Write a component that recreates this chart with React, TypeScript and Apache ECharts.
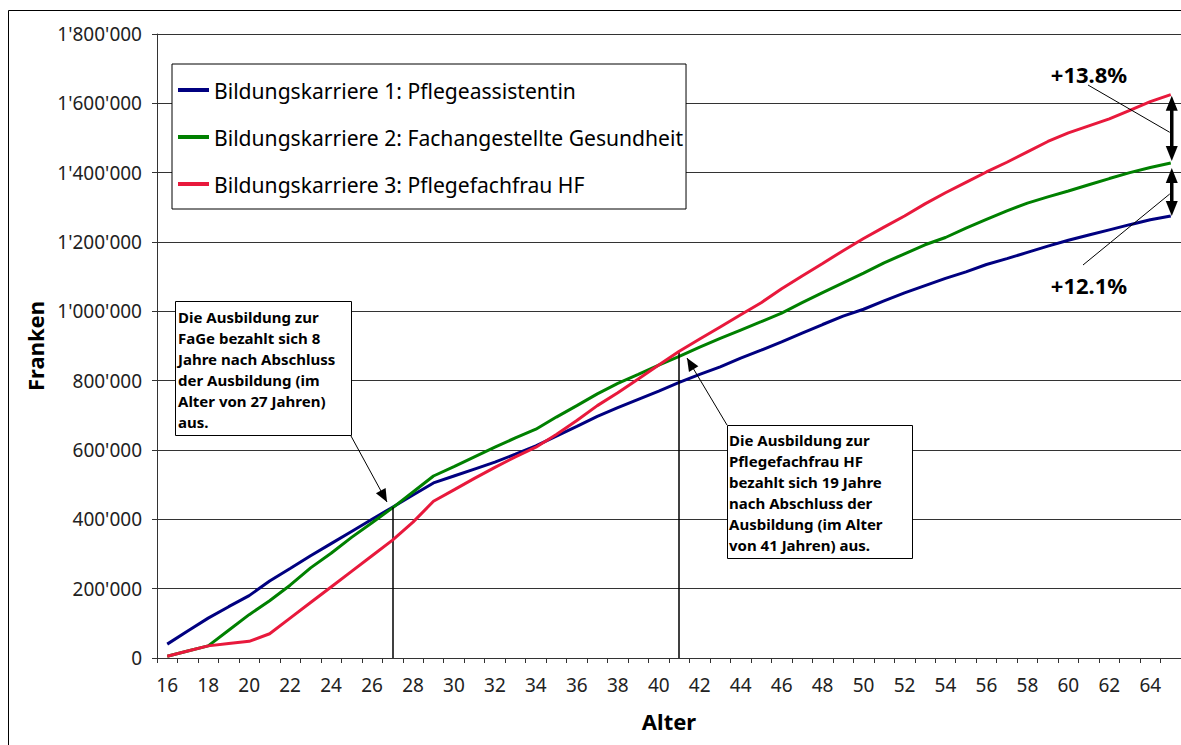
import React, { useEffect, useRef } from "react";
import * as echarts from "echarts";

const ages = [
  "16", "17", "18", "19", "20", "21", "22", "23", "24", "25",
  "26", "27", "28", "29", "30", "31", "32", "33", "34", "35",
  "36", "37", "38", "39", "40", "41", "42", "43", "44", "45",
  "46", "47", "48", "49", "50", "51", "52", "53", "54", "55",
  "56", "57", "58", "59", "60", "61", "62", "63", "64", "65",
];

const seriesNames = [
  "Bildungskarriere 1: Pflegeassistentin",
  "Bildungskarriere 2: Fachangestellte Gesundheit",
  "Bildungskarriere 3: Pflegefachfrau HF",
];
const seriesColors = ["#000080", "#008000", "#e8193c"];

const blueValues = [
  40000, 78000, 115000, 148000, 180000, 222000, 258000, 295000, 330000, 365000,
  400000, 435000, 470000, 505000, 525000, 545000, 565000, 588000, 612000, 640000,
  668000, 697000, 722000, 746000, 770000, 795000, 818000, 840000, 865000, 888000,
  912000, 937000, 962000, 986000, 1006000, 1030000, 1053000, 1074000, 1095000, 1114000,
  1135000, 1152000, 1170000, 1188000, 1205000, 1220000, 1235000, 1250000, 1264000, 1275000,
];
const greenValues = [
  5000, 20000, 35000, 80000, 125000, 165000, 210000, 260000, 302000, 348000,
  390000, 433000, 479000, 525000, 552000, 580000, 608000, 635000, 660000, 695000,
  728000, 762000, 792000, 818000, 845000, 870000, 897000, 922000, 946000, 970000,
  995000, 1025000, 1054000, 1082000, 1110000, 1140000, 1166000, 1192000, 1213000, 1240000,
  1265000, 1290000, 1312000, 1330000, 1347000, 1365000, 1383000, 1400000, 1415000, 1428000,
];
const redValues = [
  5000, 20000, 35000, 42000, 48000, 70000, 115000, 160000, 205000, 250000,
  295000, 340000, 392000, 452000, 485000, 518000, 550000, 580000, 608000, 645000,
  685000, 728000, 765000, 805000, 845000, 885000, 920000, 955000, 990000, 1025000,
  1065000, 1102000, 1138000, 1175000, 1210000, 1243000, 1275000, 1310000, 1342000, 1372000,
  1402000, 1430000, 1460000, 1490000, 1515000, 1535000, 1555000, 1580000, 1605000, 1625000,
];

const yMax = 1800000;
const yInterval = 200000;

const breakEvenAges = ["27", "41"];
const noteFaGe = [
  "Die Ausbildung zur",
  "FaGe bezahlt sich 8",
  "Jahre nach Abschluss",
  "der Ausbildung (im",
  "Alter von 27 Jahren)",
  "aus.",
];
const noteHF = [
  "Die Ausbildung zur",
  "Pflegefachfrau HF",
  "bezahlt sich 19 Jahre",
  "nach Abschluss der",
  "Ausbildung (im Alter",
  "von 41 Jahren) aus.",
];
const pctUpper = "+13.8%";
const pctLower = "+12.1%";

const FONT = '"Noto Sans", "Open Sans", sans-serif';

function fmt(v: number): string {
  return String(v).replace(/\B(?=(\d{3})+(?!\d))/g, "'");
}

function arrowHead(tip: number[], from: number[], len: number, halfW: number) {
  const dx = tip[0] - from[0];
  const dy = tip[1] - from[1];
  const d = Math.sqrt(dx * dx + dy * dy) || 1;
  const ux = dx / d;
  const uy = dy / d;
  const bx = tip[0] - ux * len;
  const by = tip[1] - uy * len;
  const nx = -uy;
  const ny = ux;
  return {
    type: "polygon",
    z: 100,
    shape: {
      points: [
        [tip[0], tip[1]],
        [bx + nx * halfW, by + ny * halfW],
        [bx - nx * halfW, by - ny * halfW],
      ],
    },
    style: { fill: "#000" },
  };
}

export default function App() {
  const ref = useRef<HTMLDivElement>(null);

  useEffect(() => {
    if (!ref.current) return;
    const chart = echarts.init(ref.current, undefined, { renderer: "svg" });

    const allValues = [blueValues, greenValues, redValues];
    const series: any[] = allValues.map((vals, k) => ({
      name: seriesNames[k],
      type: "line",
      data: vals,
      showSymbol: false,
      symbol: "none",
      smooth: false,
      lineStyle: { color: seriesColors[k], width: 3 },
      itemStyle: { color: seriesColors[k] },
      z: 3 + k,
    }));

    const idx27 = ages.indexOf(breakEvenAges[0]);
    const idx41 = ages.indexOf(breakEvenAges[1]);
    series[0].markLine = {
      silent: true,
      symbol: ["none", "none"],
      label: { show: false },
      lineStyle: { color: "#000", width: 1.5, type: "solid" },
      data: [
        [
          { coord: [idx27, Math.max(blueValues[idx27], greenValues[idx27])] },
          { coord: [idx27, 0] },
        ],
        [
          { coord: [idx41, Math.max(greenValues[idx41], redValues[idx41])] },
          { coord: [idx41, 0] },
        ],
      ],
    };

    const option: any = {
      animation: false,
      backgroundColor: "#fff",
      textStyle: { fontFamily: FONT },
      grid: { left: 157, top: 34, width: 1030, height: 624, containLabel: false },
      legend: {
        orient: "vertical",
        left: 172,
        top: 64,
        padding: [14, 3, 13, 6],
        itemGap: 23,
        itemWidth: 31,
        itemHeight: 4,
        icon: "rect",
        borderColor: "#000",
        borderWidth: 1,
        backgroundColor: "#fff",
        textStyle: { fontSize: 21.1, color: "#000", lineHeight: 24, fontFamily: FONT },
        data: seriesNames,
      },
      xAxis: {
        type: "category",
        data: ages,
        boundaryGap: true,
        name: "Alter",
        nameLocation: "middle",
        nameGap: 52,
        nameTextStyle: { fontSize: 22, fontWeight: "bold", color: "#000", fontFamily: FONT },
        axisLine: { lineStyle: { color: "#333", width: 1 } },
        axisTick: { show: true, interval: 0, length: 5, alignWithLabel: false, lineStyle: { color: "#333" } },
        axisLabel: { interval: 1, fontSize: 19, color: "#222", margin: 17, fontFamily: FONT },
        splitLine: { show: false },
      },
      yAxis: {
        type: "value",
        min: 0,
        max: yMax,
        interval: yInterval,
        name: "Franken",
        nameLocation: "middle",
        nameGap: 110,
        nameRotate: 90,
        nameTextStyle: { fontSize: 22, fontWeight: "bold", color: "#000", fontFamily: FONT },
        axisLine: { show: true, lineStyle: { color: "#333", width: 1 } },
        axisTick: { show: true, length: 5, lineStyle: { color: "#333" } },
        axisLabel: { fontSize: 19, color: "#222", margin: 15, formatter: (v: number) => fmt(v), fontFamily: FONT },
        splitLine: { show: true, lineStyle: { color: "#333", width: 1 } },
      },
      series,
    };

    chart.setOption(option);

    const px = (i: number, v: number) =>
      chart.convertToPixel({ xAxisIndex: 0, yAxisIndex: 0 }, [i, v]) as number[];

    const last = ages.length - 1;
    const pRed = px(last, redValues[last]);
    const pGreen = px(last, greenValues[last]);
    const pBlue = px(last, blueValues[last]);
    const ax = pRed[0] + 1;

    const g: any[] = [];
    g.push({
      type: "rect",
      z: 0,
      shape: { x: 8.5, y: 10.5, width: 1200, height: 740 },
      style: { fill: "none", stroke: "#000", lineWidth: 1 },
    });

    g.push({
      type: "rect",
      z: 100,
      shape: { x: 175.5, y: 301.5, width: 176, height: 134 },
      style: { fill: "#fff", stroke: "#000", lineWidth: 1 },
    });
    g.push({
      type: "text",
      z: 101,
      x: 178,
      y: 306,
      style: {
        text: noteFaGe.join("\n"),
        fontFamily: FONT,
        fontSize: 15,
        fontWeight: "bold",
        lineHeight: 21,
        fill: "#000",
        verticalAlign: "top",
      },
    });
    const a1From = [351, 436];
    const a1Tip = [387, 502];
    g.push({
      type: "line",
      z: 100,
      shape: { x1: a1From[0], y1: a1From[1], x2: a1Tip[0], y2: a1Tip[1] },
      style: { stroke: "#000", lineWidth: 1 },
    });
    g.push(arrowHead(a1Tip, a1From, 13, 5.5));

    g.push({
      type: "rect",
      z: 100,
      shape: { x: 727.5, y: 425.5, width: 185, height: 133 },
      style: { fill: "#fff", stroke: "#000", lineWidth: 1 },
    });
    g.push({
      type: "text",
      z: 101,
      x: 729,
      y: 429,
      style: {
        text: noteHF.join("\n"),
        fontFamily: FONT,
        fontSize: 15,
        fontWeight: "bold",
        lineHeight: 21,
        fill: "#000",
        verticalAlign: "top",
      },
    });
    const a2From = [727, 425];
    const a2Tip = [687, 358];
    g.push({
      type: "line",
      z: 100,
      shape: { x1: a2From[0], y1: a2From[1], x2: a2Tip[0], y2: a2Tip[1] },
      style: { stroke: "#000", lineWidth: 1 },
    });
    g.push(arrowHead(a2Tip, a2From, 13, 5.5));

    const up1 = [ax, pRed[1] + 1];
    const dn1 = [ax, pGreen[1] - 2];
    const up2 = [ax, pGreen[1] + 5];
    const dn2 = [ax, pBlue[1]];
    [[up1, dn1], [up2, dn2]].forEach(([t, b]) => {
      g.push({
        type: "line",
        z: 100,
        shape: { x1: t[0], y1: t[1] + 8, x2: b[0], y2: b[1] - 8 },
        style: { stroke: "#000", lineWidth: 3.5 },
      });
      g.push(arrowHead(t, b, 15, 6));
      g.push(arrowHead(b, t, 15, 6));
    });

    g.push({
      type: "text",
      z: 101,
      x: 1089,
      y: 74,
      style: {
        text: pctUpper,
        fontFamily: FONT,
        fontSize: 22,
        fontWeight: "bold",
        fill: "#000",
        textAlign: "center",
        verticalAlign: "middle",
      },
    });
    g.push({
      type: "line",
      z: 100,
      shape: { x1: 1088, y1: 85, x2: ax - 2, y2: (up1[1] + dn1[1]) / 2 + 4 },
      style: { stroke: "#000", lineWidth: 1 },
    });
    g.push({
      type: "text",
      z: 101,
      x: 1089,
      y: 285,
      style: {
        text: pctLower,
        fontFamily: FONT,
        fontSize: 22,
        fontWeight: "bold",
        fill: "#000",
        textAlign: "center",
        verticalAlign: "middle",
      },
    });
    g.push({
      type: "line",
      z: 100,
      shape: { x1: 1083, y1: 265, x2: ax - 2, y2: (up2[1] + dn2[1]) / 2 + 2 },
      style: { stroke: "#000", lineWidth: 1 },
    });

    chart.setOption({ graphic: g });

    return () => {
      chart.dispose();
    };
  }, []);

  return (
    <div
      ref={ref}
      style={{ position: "absolute", left: 0, top: 0, width: 1181, height: 745, background: "#fff" }}
    />
  );
}
